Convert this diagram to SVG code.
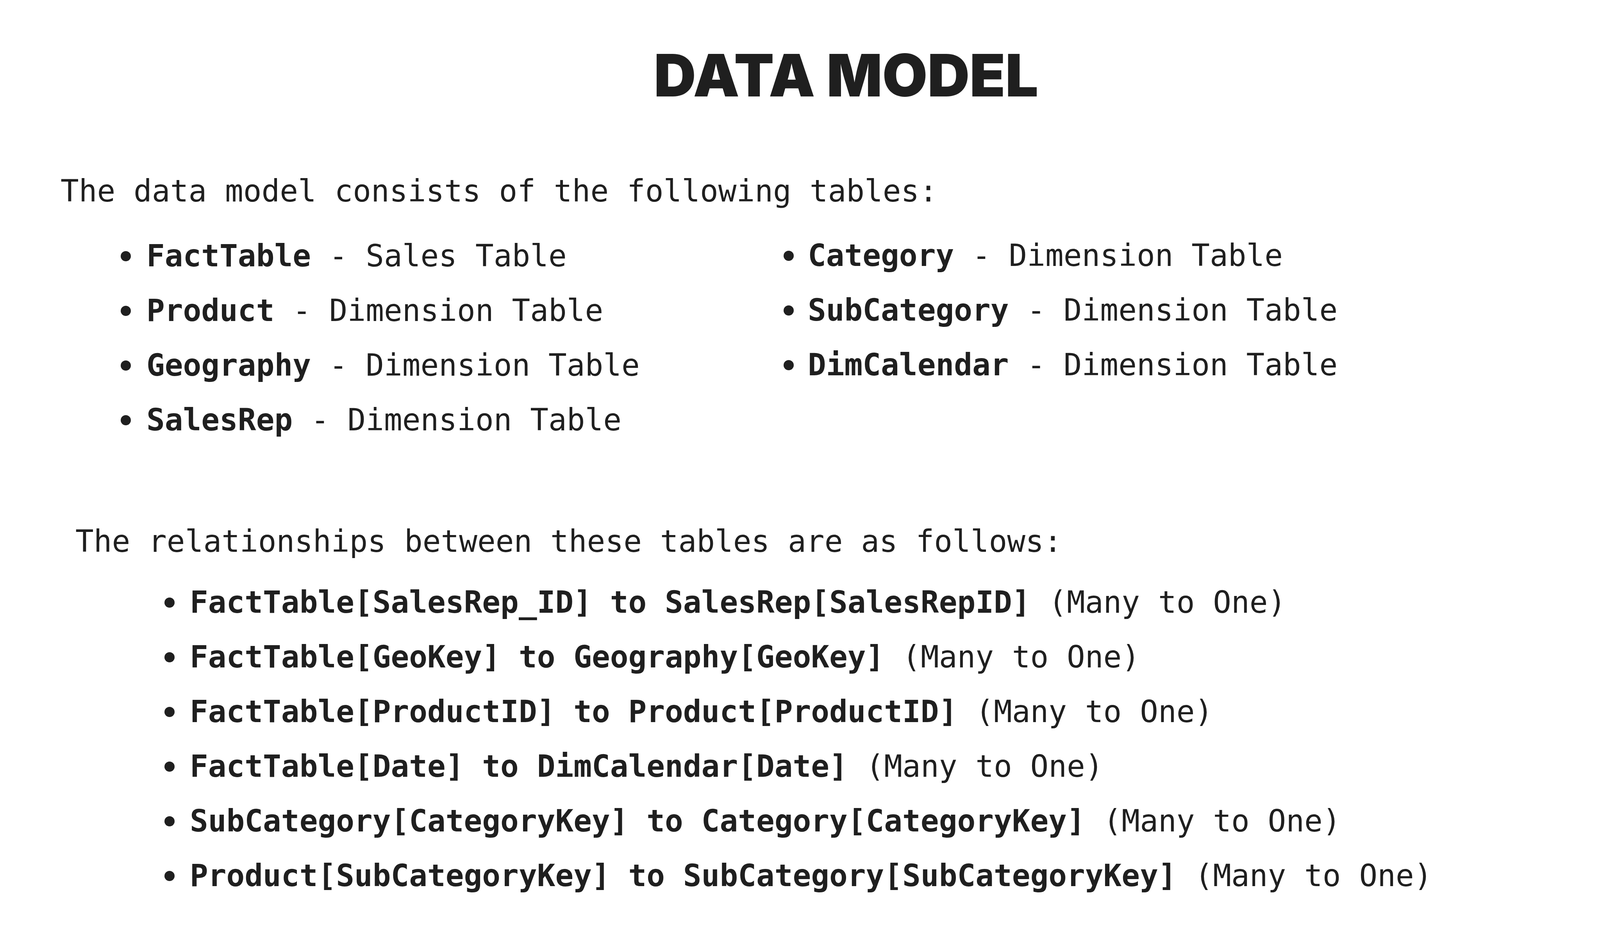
<svg xmlns="http://www.w3.org/2000/svg" width="4320" height="2430" viewBox="0 0 4320 2430">
<style>
.t{font-family:"DejaVu Sans Mono","Liberation Mono",monospace;font-size:77.7px;fill:#1f1f1f;white-space:pre}
.b{font-weight:bold}
.title{font-family:Inter,Roboto,"Open Sans",sans-serif;font-weight:900;font-size:150px;fill:#1f1f1f}
.dot{fill:#1f1f1f}
</style>
<rect width="4320" height="2430" fill="#ffffff"/>
<g id="title"><text class="title" x="1674" y="247" textLength="984" lengthAdjust="spacingAndGlyphs">DATA MODEL</text></g>
<g id="intro"><text class="t" x="155" y="516">The data model consists of the following tables:</text></g>
<g id="tables">
<g id="t-facttable"><circle class="dot" cx="322" cy="656" r="13"/><text class="t" x="375" y="682"><tspan class="b">FactTable</tspan> - Sales Table</text></g>
<g id="t-product"><circle class="dot" cx="322" cy="796" r="13"/><text class="t" x="375" y="822"><tspan class="b">Product</tspan> - Dimension Table</text></g>
<g id="t-geography"><circle class="dot" cx="322" cy="936" r="13"/><text class="t" x="375" y="962"><tspan class="b">Geography</tspan> - Dimension Table</text></g>
<g id="t-salesrep"><circle class="dot" cx="322" cy="1076" r="13"/><text class="t" x="375" y="1102"><tspan class="b">SalesRep</tspan> - Dimension Table</text></g>
<g id="t-category"><circle class="dot" cx="2019" cy="655" r="13"/><text class="t" x="2068" y="681"><tspan class="b">Category</tspan> - Dimension Table</text></g>
<g id="t-subcategory"><circle class="dot" cx="2019" cy="795" r="13"/><text class="t" x="2068" y="821"><tspan class="b">SubCategory</tspan> - Dimension Table</text></g>
<g id="t-dimcalendar"><circle class="dot" cx="2019" cy="935" r="13"/><text class="t" x="2068" y="961"><tspan class="b">DimCalendar</tspan> - Dimension Table</text></g>
</g>
<g id="rel-heading"><text class="t" x="193" y="1413">The relationships between these tables are as follows:</text></g>
<g id="relationships">
<g id="r1"><circle class="dot" cx="434" cy="1543" r="13"/><text class="t" x="486" y="1569"><tspan class="b">FactTable[SalesRep_ID] to SalesRep[SalesRepID]</tspan> (Many to One)</text></g>
<g id="r2"><circle class="dot" cx="434" cy="1683" r="13"/><text class="t" x="486" y="1709"><tspan class="b">FactTable[GeoKey] to Geography[GeoKey]</tspan> (Many to One)</text></g>
<g id="r3"><circle class="dot" cx="434" cy="1823" r="13"/><text class="t" x="486" y="1849"><tspan class="b">FactTable[ProductID] to Product[ProductID]</tspan> (Many to One)</text></g>
<g id="r4"><circle class="dot" cx="434" cy="1963" r="13"/><text class="t" x="486" y="1989"><tspan class="b">FactTable[Date] to DimCalendar[Date]</tspan> (Many to One)</text></g>
<g id="r5"><circle class="dot" cx="434" cy="2103" r="13"/><text class="t" x="486" y="2129"><tspan class="b">SubCategory[CategoryKey] to Category[CategoryKey]</tspan> (Many to One)</text></g>
<g id="r6"><circle class="dot" cx="434" cy="2243" r="13"/><text class="t" x="486" y="2269"><tspan class="b">Product[SubCategoryKey] to SubCategory[SubCategoryKey]</tspan> (Many to One)</text></g>
</g>
<g id="connectors"/>
</svg>
